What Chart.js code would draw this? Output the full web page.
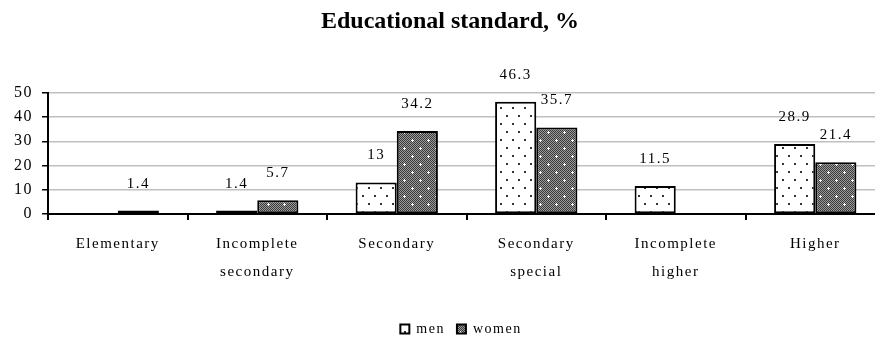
<!DOCTYPE html>
<html>
<head>
<meta charset="utf-8">
<script src="https://cdn.jsdelivr.net/npm/chart.js@4/dist/chart.umd.min.js"></script>
<style>
  html, body { margin: 0; padding: 0; background: #fff; overflow: hidden; }
  .chart { position: relative; width: 890px; height: 338px; }
</style>
</head>
<body>
<div class="chart"><canvas id="chart"></canvas></div>
<script>
const categories = [
  'Elementary',
  ['Incomplete', 'secondary'],
  'Secondary',
  ['Secondary', 'special'],
  ['Incomplete', 'higher'],
  'Higher',
];
const menValues = [null, 1.4, 13, 46.3, 11.5, 28.9];
const womenValues = [1.4, 5.7, 34.2, 35.7, null, 21.4];
const yTicks = [0, 10, 20, 30, 40, 50];

const serif = '"Liberation Serif", "Times New Roman", serif';

// dotted fill for men
const makeMenPattern = () => {
  const c = document.createElement('canvas');
  c.width = 12;
  c.height = 16;
  const g = c.getContext('2d');
  g.fillStyle = '#fff';
  g.fillRect(0, 0, 12, 16);
  g.fillStyle = '#333';
  g.fillRect(2, 3, 2, 2);
  g.fillRect(8, 11, 2, 2);
  return g.createPattern(c, 'repeat');
};

// dark mesh with white dots for women
const makeWomenPattern = () => {
  const c = document.createElement('canvas');
  c.width = 16;
  c.height = 16;
  const g = c.getContext('2d');
  for (let y = 0; y < 16; y++) {
    for (let x = 0; x < 16; x++) {
      g.fillStyle = (x + y) % 2 === 0 ? '#3a3a3a' : '#9a9a9a';
      g.fillRect(x, y, 1, 1);
    }
  }
  g.fillStyle = '#fff';
  [[4, 4], [12, 12]].forEach(([x, y]) => {
    g.fillRect(x - 1, y, 3, 1);
    g.fillRect(x, y - 1, 1, 3);
  });
  return g.createPattern(c, 'repeat');
};

// excel-ish wide text spacing (not for the title)
const spacing = {
  id: 'spacing',
  beforeLayout(chart) {
    chart.ctx.letterSpacing = '1.5px';
  },
  afterLayout(chart) {
    const t = chart.titleBlock;
    if (t && !t._plainDraw) {
      const draw = t.draw.bind(t);
      t.draw = (...args) => {
        const ctx = chart.ctx;
        const ls = ctx.letterSpacing;
        ctx.save();
        ctx.letterSpacing = '0px';
        ctx.translate(5, 1);
        draw(...args);
        ctx.restore();
        ctx.letterSpacing = ls;
      };
      t._plainDraw = true;
    }
    // nudge the legend down and right
    if (chart.legend) {
      chart.legend.top += 8;
      chart.legend.bottom += 8;
      chart.legend.left += 16;
      chart.legend.right += 16;
    }
  },
  beforeDraw(chart) {
    chart.ctx.letterSpacing = '1.5px';
  },
};

const valueLabels = {
  id: 'valueLabels',
  afterDatasetsDraw(chart) {
    const ctx = chart.ctx;
    ctx.save();
    ctx.font = '15px ' + serif;
    ctx.fillStyle = '#000';
    ctx.textAlign = 'center';
    ctx.textBaseline = 'middle';
    chart.data.datasets.forEach((ds, i) => {
      chart.getDatasetMeta(i).data.forEach((bar, j) => {
        const v = ds.data[j];
        if (v === null) return;
        ctx.fillText(String(v), bar.x, bar.y - 27);
      });
    });
    ctx.restore();
  },
};

new Chart(document.getElementById('chart'), {
  type: 'bar',
  data: {
    labels: categories,
    datasets: [
      {
        label: 'men',
        data: menValues,
        backgroundColor: makeMenPattern(),
        borderColor: '#000',
        borderWidth: 2,
        borderSkipped: false,
      },
      {
        label: 'women',
        data: womenValues,
        backgroundColor: makeWomenPattern(),
        borderColor: '#000',
        borderWidth: 2,
        borderSkipped: false,
      },
    ],
  },
  options: {
    responsive: true,
    maintainAspectRatio: false,
    animation: false,
    categoryPercentage: 0.59,
    barPercentage: 1,
    layout: { padding: { left: 5, right: 5, top: 4, bottom: 0 } },
    scales: {
      x: {
        grid: {
          offset: true,
          drawOnChartArea: false,
          color: '#000',
          tickLength: 6,
          lineWidth: 2,
        },
        border: { color: '#000', width: 2 },
        ticks: {
          color: '#000',
          font: { family: serif, size: 15, lineHeight: 1.85 },
          padding: 10,
          maxRotation: 0,
        },
        afterFit: (scale) => {
          scale.height = 88;
        },
      },
      y: {
        min: 0,
        max: 50,
        afterBuildTicks: (axis) => {
          axis.ticks = yTicks.map((v) => ({ value: v }));
        },
        grid: {
          color: '#c0c0c0',
          tickColor: '#000',
          tickLength: 6,
          lineWidth: 1.5,
        },
        border: { color: '#000', width: 2 },
        ticks: {
          color: '#000',
          font: { family: serif, size: 16 },
          padding: 9,
        },
      },
    },
    plugins: {
      title: {
        display: true,
        text: 'Educational standard, %',
        color: '#000',
        font: { family: serif, size: 24, weight: 'bold' },
        padding: { top: 2, bottom: 58 },
      },
      legend: {
        position: 'bottom',
        labels: {
          color: '#000',
          font: { family: serif, size: 14 },
          boxWidth: 9,
          boxHeight: 9,
          padding: 12,
        },
      },
      tooltip: { enabled: false },
    },
  },
  plugins: [spacing, valueLabels],
});
</script>
</body>
</html>
